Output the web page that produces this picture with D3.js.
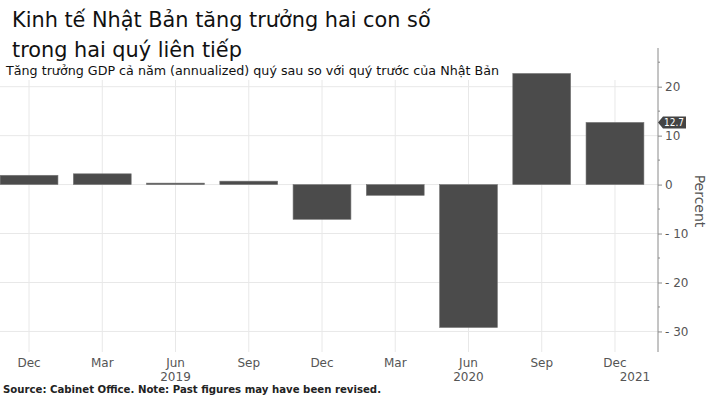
<!DOCTYPE html>
<html>
<head>
<meta charset="utf-8">
<script src="https://cdn.jsdelivr.net/npm/d3@7"></script>
<style>
  body { margin: 0; background: #fff; }
  text { font-family: "DejaVu Sans", sans-serif; }
</style>
</head>
<body>
<div id="chart"></div>
<script>

var quarters = ["Dec 2018", "Mar 2019", "Jun 2019", "Sep 2019", "Dec 2019",
                "Mar 2020", "Jun 2020", "Sep 2020", "Dec 2020"];
var monthLabels = ["Dec", "Mar", "Jun", "Sep", "Dec", "Mar", "Jun", "Sep", "Dec"];
var growth = [1.9, 2.2, 0.3, 0.7, -7.1, -2.2, -29.2, 22.7, 12.7];
var yearLabels = ["2019", "2020", "2021"];
var yearIndex = [2, 6, 8];
var yTicks = [20, 10, 0, -10, -20, -30];
var titleLines = ["Kinh tế Nhật Bản tăng trưởng hai con số", "trong hai quý liên tiếp"];
var subtitle = "Tăng trưởng GDP cả năm (annualized) quý sau so với quý trước của Nhật Bản";
var source = "Source: Cabinet Office. Note: Past figures may have been revised.";

var width = 710, height = 398;
var plot = {top: 48, bottom: 352, left: -7.6, right: 651.6, axis: 658};

var svg = d3.select("#chart").append("svg")
  .attr("width", width)
  .attr("height", height);

var x = d3.scaleBand()
  .domain(quarters)
  .range([plot.left, plot.right])
  .paddingInner(0.21)
  .paddingOuter(0.105);

var y = d3.scaleLinear()
  .domain([-34.2, 27.9])
  .range([plot.bottom, plot.top]);

// grid
svg.append("g").selectAll("line.h")
  .data(yTicks)
  .enter().append("line")
    .attr("x1", 0).attr("x2", plot.axis)
    .attr("y1", function(d) { return y(d); })
    .attr("y2", function(d) { return y(d); })
    .attr("stroke", "#e8e8e8").attr("stroke-width", 1);

svg.append("g").selectAll("line.v")
  .data(quarters)
  .enter().append("line")
    .attr("x1", function(d) { return x(d) + x.bandwidth() / 2; })
    .attr("x2", function(d) { return x(d) + x.bandwidth() / 2; })
    .attr("y1", 80).attr("y2", plot.bottom)
    .attr("stroke", "#e8e8e8").attr("stroke-width", 1);

// bars
svg.append("g").selectAll("rect")
  .data(growth)
  .enter().append("rect")
    .attr("x", function(d, i) { return x(quarters[i]); })
    .attr("width", x.bandwidth())
    .attr("y", function(d) { return y(Math.max(0, d)); })
    .attr("height", function(d) { return Math.abs(y(d) - y(0)); })
    .attr("fill", "#4b4b4b")
    .attr("stroke", "#777")
    .attr("stroke-width", 0.6);

// right axis
var axis = d3.axisRight(y)
  .tickValues(yTicks)
  .tickSize(4)
  .tickPadding(3)
  .tickFormat(function(d) { return d < 0 ? "- " + Math.abs(d) : d; });

var ax = svg.append("g")
  .attr("transform", "translate(" + plot.axis + ",0)")
  .call(axis);
ax.select(".domain").attr("stroke", "#8a8a8a").attr("d", "M0," + plot.top + "V" + plot.bottom);
ax.selectAll(".tick line").attr("stroke", "#8a8a8a");
ax.selectAll(".tick text")
  .attr("fill", "#555")
  .style("font-size", "12px")
  .style("font-family", "DejaVu Sans, sans-serif");

// minor ticks
svg.append("g").selectAll("line")
  .data(d3.range(-30, 26, 5).filter(function(v) { return v % 10 != 0; }))
  .enter().append("line")
    .attr("x1", plot.axis).attr("x2", plot.axis + 2)
    .attr("y1", function(d) { return y(d); })
    .attr("y2", function(d) { return y(d); })
    .attr("stroke", "#8a8a8a");

// last value tag
var last = growth[growth.length - 1];
var ly = y(last);
svg.append("path")
  .attr("d", "M" + plot.axis + "," + ly + "L" + (plot.axis + 5) + "," + (ly - 6) +
             "H" + (plot.axis + 28) + "V" + (ly + 6) + "H" + (plot.axis + 5) + "Z")
  .attr("fill", "#444");
svg.append("text")
  .attr("x", plot.axis + 6).attr("y", ly + 4)
  .attr("fill", "#fff")
  .attr("textLength", 20)
  .attr("lengthAdjust", "spacingAndGlyphs")
  .style("font-size", "11px")
  .text(last);

// axis title
svg.append("text")
  .attr("transform", "translate(695,201) rotate(90)")
  .attr("text-anchor", "middle")
  .attr("fill", "#555")
  .style("font-size", "14px")
  .text("Percent");

// x labels
svg.append("g").selectAll("text")
  .data(monthLabels)
  .enter().append("text")
    .attr("x", function(d, i) { return x(quarters[i]) + x.bandwidth() / 2; })
    .attr("y", 367)
    .attr("text-anchor", "middle")
    .attr("fill", "#555")
    .style("font-size", "12px")
    .text(function(d) { return d; });

svg.append("g").selectAll("text")
  .data(yearLabels)
  .enter().append("text")
    .attr("x", function(d, i) {
      var cx = x(quarters[yearIndex[i]]) + x.bandwidth() / 2;
      return i == yearLabels.length - 1 ? cx + 20 : cx;
    })
    .attr("y", 381)
    .attr("text-anchor", "middle")
    .attr("fill", "#555")
    .style("font-size", "12px")
    .text(function(d) { return d; });

// titles
svg.append("g")
  .attr("transform", "translate(12,0) scale(0.947,1)")
  .selectAll("text")
  .data(titleLines)
  .enter().append("text")
    .attr("x", 0)
    .attr("y", function(d, i) { return 27 + i * 30; })
    .attr("fill", "#111")
    .style("font-size", "22px")
    .text(function(d) { return d; });

svg.append("text")
  .attr("x", 6).attr("y", 75)
  .attr("fill", "#111")
  .attr("textLength", 493)
  .attr("lengthAdjust", "spacingAndGlyphs")
  .style("font-size", "12.5px")
  .text(subtitle);

svg.append("text")
  .attr("x", 3).attr("y", 393)
  .attr("fill", "#222")
  .attr("textLength", 378)
  .attr("lengthAdjust", "spacingAndGlyphs")
  .style("font-size", "11px")
  .style("font-weight", "bold")
  .text(source);

</script>
</body>
</html>
